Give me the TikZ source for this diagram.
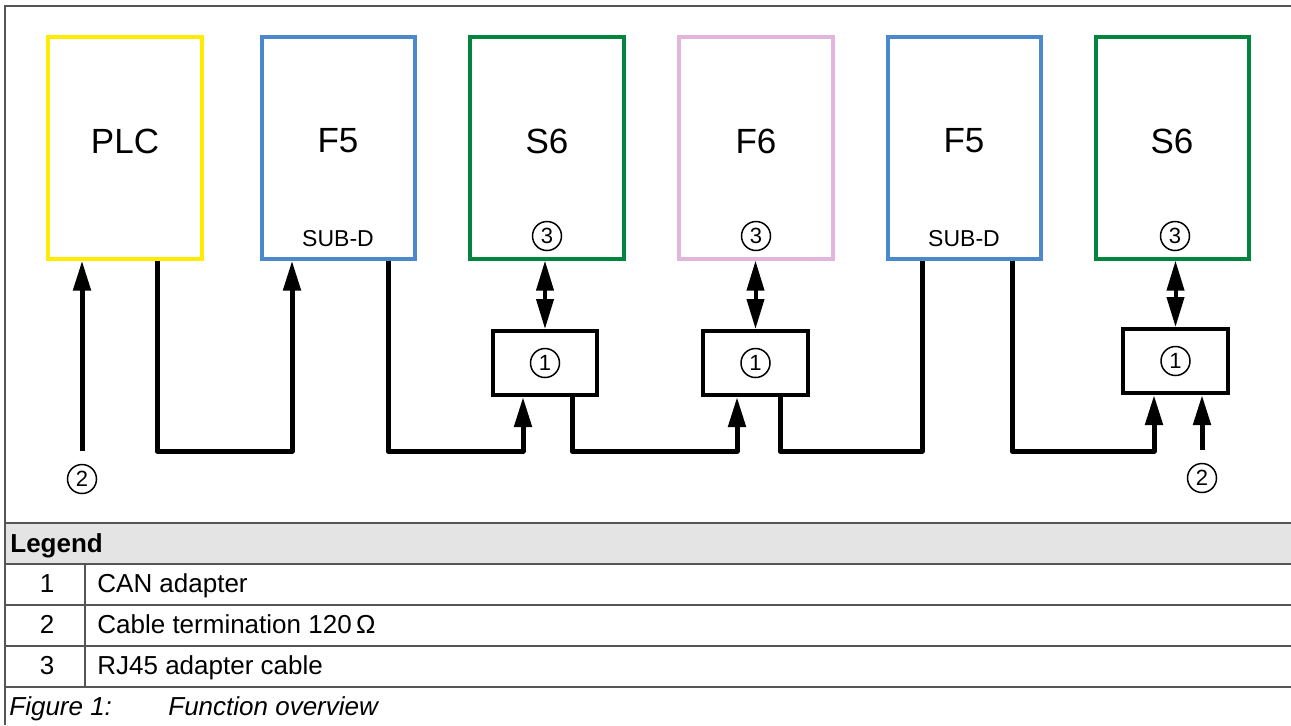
\documentclass[tikz,border=0pt]{standalone}
\usepackage{fontspec}
\setmainfont{Liberation Sans}
\usetikzlibrary{arrows.meta,fit,calc}

\definecolor{plcyellow}{RGB}{255,236,0}
\definecolor{fblue}{RGB}{74,138,204}
\definecolor{sgreen}{RGB}{0,133,62}
\definecolor{fpink}{RGB}{226,182,220}
\definecolor{framegray}{RGB}{85,85,85}
\definecolor{headgray}{RGB}{228,228,228}

\begin{document}
\begin{tikzpicture}[x=0.5pt,y=-0.5pt,
    devbox/.style={draw,line width=1.6pt,inner sep=0pt},
    adbox/.style={draw=black,line width=2pt,inner sep=0pt},
    devname/.style={font=\fontsize{17.5}{20}\selectfont},
    subd/.style={font=\fontsize{11.5}{13}\selectfont},
    callout/.style={circle,draw,line width=0.75pt,minimum size=14.5pt,inner sep=0pt,font=\fontsize{11}{12}\selectfont},
    cable/.style={line width=2.5pt,line join=round},
    feed/.style={-{Triangle[length=15pt,width=8.5pt]}},
    duplex/.style={{Triangle[length=15pt,width=8.5pt]}-{Triangle[length=15pt,width=8.5pt]},line width=2pt},
    tabline/.style={draw=framegray,line width=1pt},
    legtext/.style={anchor=base west,inner sep=0pt,font=\fontsize{13}{15}\selectfont},
    legnum/.style={anchor=base,inner sep=0pt,font=\fontsize{13}{15}\selectfont}]
    \useasboundingbox (0,0) rectangle (1291,725);

    % Rahmen und Legende
    \fill[headgray] (5,523) rectangle (1291,564);
    \draw[tabline] (4.5,725) -- (4.5,6) -- (1291,6);
    \foreach \y in {523,605,646,687}
        \draw[tabline] (4.5,\y) -- (1291,\y);
    \draw[tabline,line width=1.4pt] (4.5,564) -- (1291,564);
    \draw[tabline] (85,564) -- (85,687);

    \node[legtext,font=\bfseries\fontsize{13}{15}\selectfont] (leg) at (10,552) {Legend};
    \node[legnum] (n1) at (47,592) {1};
    \node[legnum] (n2) at (47,633) {2};
    \node[legnum] (n3) at (47,674) {3};
    \node[legtext] (t1) at (97,592) {CAN adapter};
    \node[legtext] (t2) at (97,633) {Cable termination 120\,Ω};
    \node[legtext] (t3) at (97,674) {RJ45 adapter cable};
    \node[legtext,font=\itshape\fontsize{13}{15}\selectfont] (fig) at (9,715) {Figure 1:};
    \node[legtext,font=\itshape\fontsize{13}{15}\selectfont] (figt) at (168,715) {Function overview};

    % Geräte
    \node[devbox,draw=plcyellow,fit={(48,37)(202,259)}] (plc) {};
    \node[devbox,draw=fblue,fit={(262,37)(415,259)}] (fa) {};
    \node[devbox,draw=sgreen,fit={(470,37)(624,259)}] (sa) {};
    \node[devbox,draw=fpink,fit={(679,37)(833,259)}] (fb) {};
    \node[devbox,draw=fblue,fit={(888,37)(1041,259)}] (fc) {};
    \node[devbox,draw=sgreen,fit={(1096,37)(1249,259)}] (sb) {};

    \node[devname] (plc-name) at (125,141) {PLC};
    \node[devname] (fa-name) at (338,141) {F5};
    \node[devname] (sa-name) at (547,141) {S6};
    \node[devname] (fb-name) at (756,141) {F6};
    \node[devname] (fc-name) at (964,141) {F5};
    \node[devname] (sb-name) at (1172,141) {S6};

    \node[subd] (fa-sub) at (338,239) {SUB-D};
    \node[subd] (fc-sub) at (964,239) {SUB-D};
    \node[callout] (sa-rj) at (547,236) {3};
    \node[callout] (fb-rj) at (756,236) {3};
    \node[callout] (sb-rj) at (1175,236) {3};

    % CAN-Adapter
    \node[adbox,fit={(493,331)(597,395)}] (ada) {};
    \node[adbox,fit={(703,331)(808,395)}] (adb) {};
    \node[adbox,fit={(1123,329)(1228,393)}] (adc) {};
    \node[callout] (ada-n) at (ada) {1};
    \node[callout] (adb-n) at (adb) {1};
    \node[callout] (adc-n) at (adc) {1};

    % Abschlusswiderstände
    \node[callout] (ta) at (82,479) {2};
    \node[callout] (tb) at (1202,478) {2};

    % Leitungen
    \coordinate (bus) at (0,451);
    \coordinate (plc-out) at ($(plc.south)+(32,0)$);
    \coordinate (fa-in) at ($(fa.south)+(-46.5,0)$);
    \coordinate (fa-out) at ($(fa.south)+(49.5,0)$);
    \coordinate (ada-in) at ($(ada.south)+(-22,0)$);
    \coordinate (ada-out) at ($(ada.south)+(27,0)$);
    \coordinate (adb-in) at ($(adb.south)+(-18.5,0)$);
    \coordinate (adb-out) at ($(adb.south)+(24.5,0)$);
    \coordinate (fc-in) at ($(fc.south)+(-42.5,0)$);
    \coordinate (fc-out) at ($(fc.south)+(47.5,0)$);
    \coordinate (adc-in) at ($(adc.south)+(-21.5,0)$);

    \draw[cable,feed] (plc-out) -- (plc-out |- bus) -| (fa-in);
    \draw[cable,feed] (fa-out) -- (fa-out |- bus) -| (ada-in);
    \draw[cable,feed] (ada-out) -- (ada-out |- bus) -| (adb-in);
    \draw[cable] (adb-out) -- (adb-out |- bus) -| (fc-in);
    \draw[cable,feed] (fc-out) -- (fc-out |- bus) -| (adc-in);

    \draw[cable,feed,shorten <=6.5pt] (ta) -- (ta |- plc.south);
    \draw[cable,feed,shorten <=6.5pt] (tb) -- (tb |- adc.south);

    \draw[duplex] (ada.north) -- (ada.north |- sa.south);
    \draw[duplex] (adb.north) -- (adb.north |- fb.south);
    \draw[duplex] (adc.north) -- (adc.north |- sb.south);
\end{tikzpicture}
\end{document}
